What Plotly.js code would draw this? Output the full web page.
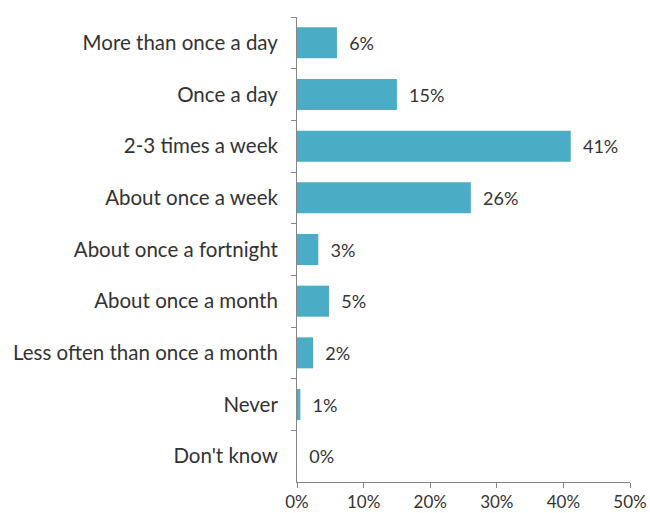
<!DOCTYPE html>
<html>
<head>
<meta charset="utf-8">
<script src="https://cdn.plot.ly/plotly-3.0.1.min.js"></script>
<style>html,body{margin:0;padding:0;background:#fff}#chart{width:650px;height:513px}</style>
</head>
<body>
<div id="chart"></div>
<script>
const categories = ["More than once a day","Once a day","2-3 times a week","About once a week","About once a fortnight","About once a month","Less often than once a month","Never","Don't know"];
const values = [6, 15, 41.1, 26.1, 3.2, 4.8, 2.4, 0.5, 0];
const valueLabels = ["6%","15%","41%","26%","3%","5%","2%","1%","0%"];
const xTickVals = [0,10,20,30,40,50];
const xTickText = ["0%","10%","20%","30%","40%","50%"];

const fontFam = "Lato, Open Sans, sans-serif";
const trace = {
  type: 'bar',
  orientation: 'h',
  y: categories,
  x: values,
  text: valueLabels.map(t => '  ' + t),
  textposition: 'outside',
  cliponaxis: false,
  textfont: {family: fontFam, size: 18, color: '#333333'},
  marker: {color: '#4bacc6'},
  width: 0.6,
  hoverinfo: 'none'
};
const layout = {
  width: 650, height: 513,
  margin: {l: 297, r: 20, t: 17, b: 31},
  paper_bgcolor: '#fff', plot_bgcolor: '#fff',
  showlegend: false,
  xaxis: {
    range: [0, 50], tickvals: xTickVals, ticktext: xTickText,
    showgrid: false, zeroline: false, showline: true, linecolor: '#868686', linewidth: 1,
    ticks: 'outside', ticklen: 5, tickcolor: '#868686',
    tickfont: {family: fontFam, size: 17, color: '#333333'}, fixedrange: true
  },
  yaxis: {
    autorange: 'reversed', type: 'category',
    showgrid: false, zeroline: false, showline: true, linecolor: '#868686', linewidth: 1,
    ticks: 'outside', ticklen: 5, tickcolor: '#868686', tickson: 'boundaries',
    tickfont: {family: fontFam, size: 20.5, color: '#333333'}, ticklabelstandoff: 14, fixedrange: true
  }
};
Plotly.newPlot('chart', [trace], layout, {displayModeBar: false, staticPlot: true});
</script>
</body>
</html>
